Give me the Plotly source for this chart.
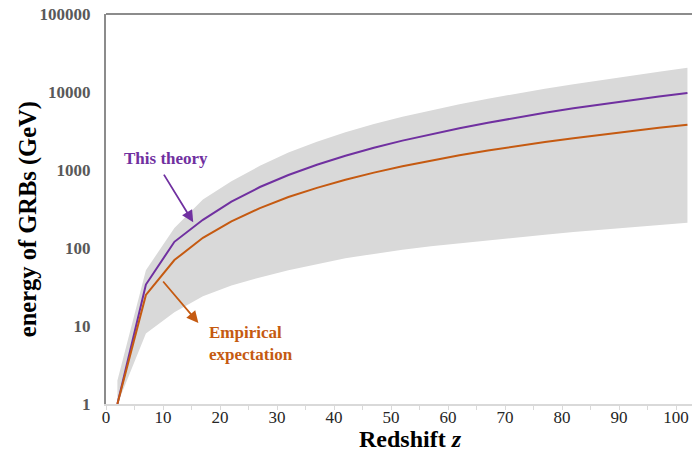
import plotly.graph_objects as go

redshift = [2, 7, 12, 17, 22, 27, 32, 37, 42, 47, 52, 57, 62, 67, 72, 77, 82, 87, 92, 97, 102]
this_theory = [1, 34, 120, 230, 394, 605, 863, 1169, 1523, 1927, 2380, 2885, 3437, 4040, 4700, 5410, 6170, 6970, 7840, 8760, 9730]
empirical = [1, 25, 70, 135, 220, 325, 450, 590, 750, 925, 1115, 1320, 1545, 1780, 2030, 2290, 2560, 2850, 3150, 3470, 3800]
band_upper = [2, 52, 180, 420, 720, 1130, 1680, 2300, 3050, 3900, 4800, 5800, 6950, 8200, 9600, 11000, 12600, 14300, 16200, 18200, 20400]
band_lower = [1, 8, 15, 24, 33, 42, 52, 62, 74, 84, 95, 105, 115, 126, 137, 148, 160, 172, 184, 197, 210]

y_tickvals = [1, 10, 100, 1000, 10000, 100000]
y_ticktext = ["1", "10", "100", "1000", "10000", "100000"]
x_tickvals = [0, 10, 20, 30, 40, 50, 60, 70, 80, 90, 100]

PURPLE = "#7030A0"
ORANGE = "#C55A11"
BAND = "#D9D9D9"
SERIF = "Liberation Serif, Times New Roman, serif"

fig = go.Figure()
fig.add_trace(go.Scatter(x=redshift, y=band_lower, mode="lines", line=dict(width=0, color=BAND),
                         hoverinfo="skip", showlegend=False))
fig.add_trace(go.Scatter(x=redshift, y=band_upper, mode="lines", line=dict(width=0, color=BAND),
                         fill="tonexty", fillcolor=BAND, hoverinfo="skip", showlegend=False))
fig.add_trace(go.Scatter(x=redshift, y=this_theory, mode="lines", name="This theory",
                         line=dict(color=PURPLE, width=2), showlegend=False))
fig.add_trace(go.Scatter(x=redshift, y=empirical, mode="lines", name="Empirical expectation",
                         line=dict(color=ORANGE, width=2), showlegend=False))

fig.update_layout(
    width=692, height=457,
    margin=dict(l=106, r=0, t=14, b=53, autoexpand=False),
    plot_bgcolor="white", paper_bgcolor="white",
    font=dict(family=SERIF),
    xaxis=dict(
        range=[0, 102.8], tickvals=x_tickvals, ticks="outside", ticklen=4, tickcolor="#D9D9D9",
        minor=dict(dtick=5, tick0=0, ticks="outside", ticklen=4, tickcolor="#D9D9D9"),
        showline=True, linecolor="#D9D9D9", linewidth=1.5, showgrid=False, zeroline=False,
        automargin=False, ticklabelstandoff=-7,
        tickfont=dict(family=SERIF, size=17, color="#262626"),
    ),
    yaxis=dict(
        type="log", range=[0, 5], tickvals=y_tickvals, ticktext=y_ticktext, ticks="",
        showline=True, linecolor="#8C8C8C", linewidth=2, showgrid=False, zeroline=False,
        automargin=False, ticklabelstandoff=10,
        tickfont=dict(family=SERIF, size=17, color="#595959", weight="bold"),
    ),
    shapes=[dict(type="line", xref="paper", yref="paper", x0=0, x1=1, y0=1, y1=1,
                 line=dict(color="#8C8C8C", width=2))],
)

# Axis titles
fig.add_annotation(x=0.52, y=-0.09, xref="paper", yref="paper", text="<b>Redshift <i>z</i></b>",
                   showarrow=False, xanchor="center", yanchor="middle",
                   font=dict(family=SERIF, size=24, color="black"))
fig.add_annotation(x=-0.133, y=0.474, xref="paper", yref="paper", text="<b>energy of GRBs (GeV)</b>",
                   showarrow=False, xanchor="center", yanchor="middle", textangle=-90,
                   font=dict(family=SERIF, size=24.5, color="black"))

# Arrows
fig.add_annotation(x=15.3, y=2.33, xref="x", yref="y", ax=10.0, ay=2.96, axref="x", ayref="y",
                   showarrow=True, arrowhead=2, arrowsize=1.3, arrowwidth=1.8, arrowcolor=PURPLE, text="")
fig.add_annotation(x=16.2, y=1.04, xref="x", yref="y", ax=9.8, ay=1.59, axref="x", ayref="y",
                   showarrow=True, arrowhead=2, arrowsize=1.3, arrowwidth=1.8, arrowcolor=ORANGE, text="")
fig.add_annotation(x=10.5, y=3.15, xref="x", yref="y", text="<b>This theory</b>", showarrow=False,
                   font=dict(family=SERIF, size=17, color=PURPLE), xanchor="center", yanchor="middle")
fig.add_annotation(x=17.8, y=1.06, xref="x", yref="y", text="<b>Empirical<br>expectation</b>", showarrow=False,
                   align="left", xanchor="left", yanchor="top",
                   font=dict(family=SERIF, size=17, color=ORANGE))

fig.write_html("out.html", config={"displayModeBar": False},
               post_script="document.body.style.margin='0';document.body.style.overflow='hidden';")
